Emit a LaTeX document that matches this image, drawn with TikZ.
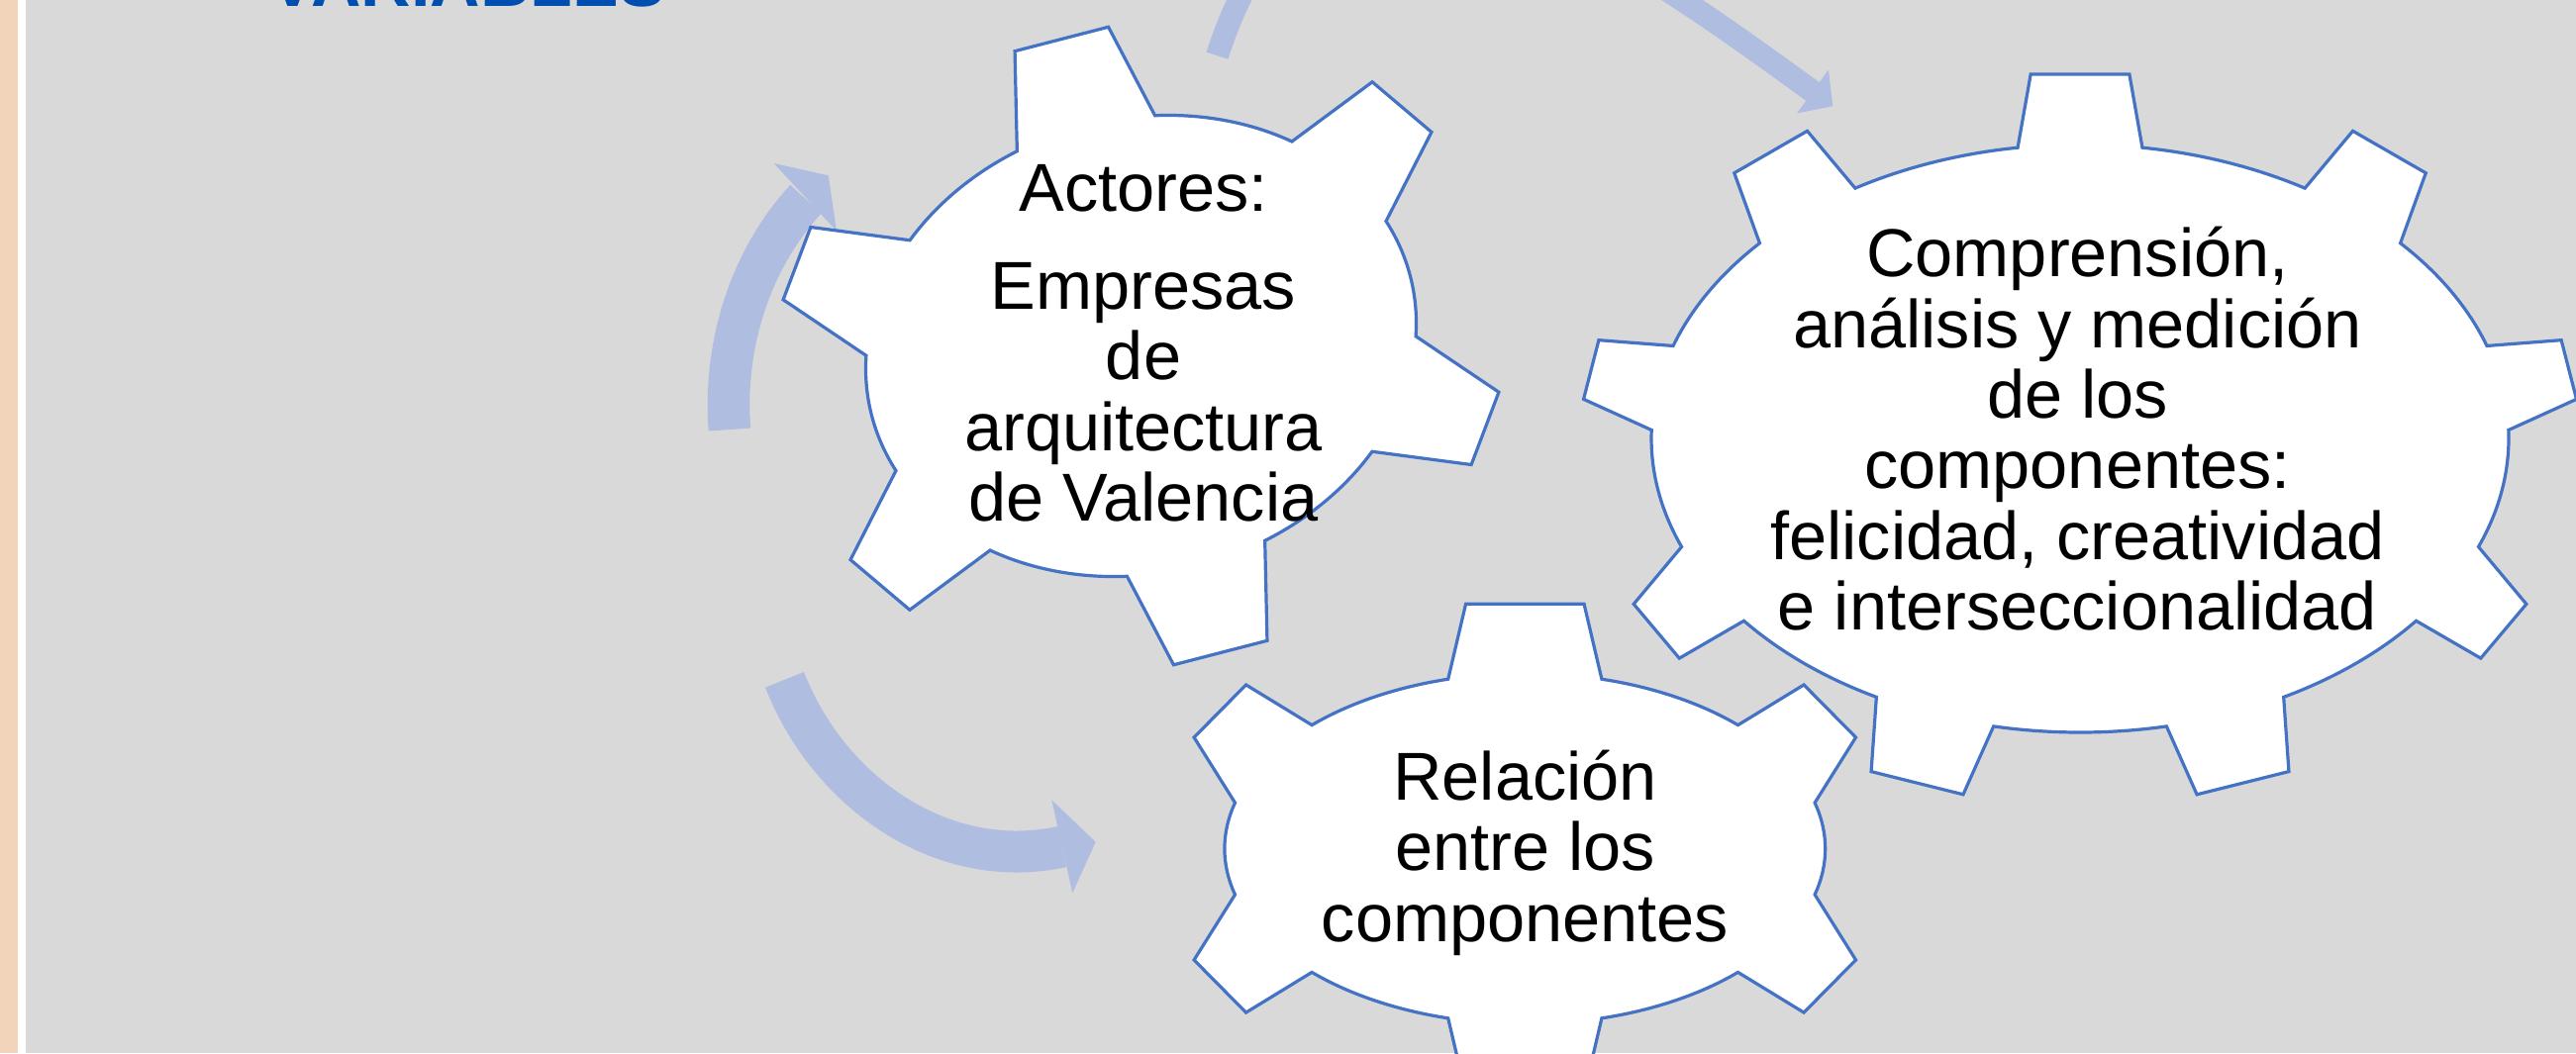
\documentclass[tikz,border=0pt]{standalone}
\usepackage{fontspec}
\setmainfont{Liberation Sans}
\definecolor{bgray}{HTML}{D9D9D9}
\definecolor{beige}{HTML}{F2D4BA}
\definecolor{titleblue}{HTML}{004FB0}
\definecolor{gearline}{HTML}{4472C4}
\definecolor{ring}{HTML}{AFBDE0}
\newcommand\gtfont{\fontsize{19.49pt}{20.31pt}\selectfont\lineskiplimit=-100pt\lineskip=0pt\relax}
\newcommand\gtext[1]{\vtop{\hsize=8cm\gtfont\centering #1\par}}
\tikzset{
  gear/.style={draw=gearline, fill=white, line width=0.032cm, line join=miter},
  ringband/.style={draw=ring, line width=#1, line cap=butt},
  ringhead/.style={fill=ring, draw=none},
  gtxt/.style={anchor=base, inner sep=0pt, text=black},
  declare function={gL(\p)=sqrt((\gry*cos(\p))^2+(\grx*sin(\p))^2);}
}
% name, center, rotation, rx, ry, teeth, half angle, tooth height, tooth inset
\newcommand\drawgear[9]{%
 \begin{scope}[shift={#2}, rotate=#3]
  \def\grx{#4}\def\gry{#5}\def\gn{#6}\def\gha{#7}\def\gth{#8}\def\glfd{#9}
  \filldraw[gear] ({\grx*cos(90+\gha)},{\gry*sin(90+\gha)})
   \foreach \k [evaluate=\k as \ph using 90+\k*360/\gn] in {1,...,\gn}{
     arc[start angle={\ph-360/\gn+\gha}, end angle={\ph-\gha}, x radius=\grx, y radius=\gry]
     -- ({\grx*cos(\ph-\gha)+(\gth*\gry*cos(\ph)-\glfd*\grx*sin(\ph))/gL(\ph)},{\gry*sin(\ph-\gha)+(\gth*\grx*sin(\ph)+\glfd*\gry*cos(\ph))/gL(\ph)})
     -- ({\grx*cos(\ph+\gha)+(\gth*\gry*cos(\ph)+\glfd*\grx*sin(\ph))/gL(\ph)},{\gry*sin(\ph+\gha)+(\gth*\grx*sin(\ph)-\glfd*\gry*cos(\ph))/gL(\ph)})
     -- ({\grx*cos(\ph+\gha)},{\gry*sin(\ph+\gha)})
   } -- cycle;
  \coordinate (#1) at (0,0);
 \end{scope}%
}
\begin{document}
\begin{tikzpicture}
\useasboundingbox (0,0) rectangle (26.02,-10.64);
\clip (0,0) rectangle (26.02,-10.64);
% background
\fill[bgray] (0.26,0) rectangle (26.02,-10.64);
\fill[white] (0.18,0) rectangle (0.26,-10.64);
\fill[beige] (0,0) rectangle (0.18,-10.64);
% title (cut by the top edge)
\node[anchor=base west, inner sep=0pt, text=titleblue, font=\fontsize{19.9pt}{22pt}\selectfont\bfseries] (title) at (2.72,-0.065) {VARIABLES};
% circular arrows
\draw[ringband=0.425cm] (9.87,-4.09) ++(185:2.51 and 2.87) coordinate (aAs) arc[start angle=185, end angle=133.6, x radius=2.51, y radius=2.87] coordinate (aAe);
\fill[ringhead] (7.817,-1.65) -- (8.367,-1.773) -- (8.45,-2.333) -- cycle;
\coordinate (aBs) at (12.295,-0.562);
\coordinate (aBe) at (18.31,-0.925);
\draw[ringband=0.23cm] (aBs) .. controls (13.305,2.58) and (15.88,0.845) .. (aBe);
\fill[ringhead] (18.469,-0.706) -- (18.5125,-1.0725) -- (18.151,-1.144) -- cycle;
\coordinate (aCs) at (7.925,-6.868);
\coordinate (aCe) at (10.728,-8.555);
\draw[ringband=0.42cm] (aCs) .. controls (8.373,-8.013) and (9.526,-8.818) .. (aCe);
\fill[ringhead] (10.623,-8.083) -- (11.067,-8.507) -- (10.833,-9.023) -- cycle;
% gears
\drawgear{g2}{(21.01,-4.43)}{0}{4.33}{2.97}{9}{8.36}{0.7425}{0.131}
\drawgear{g3}{(15.403,-8.575)}{0}{3.034}{1.772}{6}{14.82}{0.759}{0.1785}
\drawgear{g1}{(11.525,-3.495)}{14.5}{2.81}{2.295}{6}{14.83}{0.984}{0.231}
% texts
\node[gtxt] (t1) at (11.55,-2.134) {\gtext{Actores:\\[0.277cm] Empresas\\ de\\ arquitectura\\ de Valencia}};
\node[gtxt] (t2) at (20.985,-2.796) {\gtext{Comprensión,\\ análisis y medición\\ de los\\ componentes:\\ felicidad, creatividad\\ e interseccionalidad}};
\node[gtxt] (t3) at (15.405,-8.083) {\gtext{Relación\\ entre los\\ componentes}};
\end{tikzpicture}
\end{document}
